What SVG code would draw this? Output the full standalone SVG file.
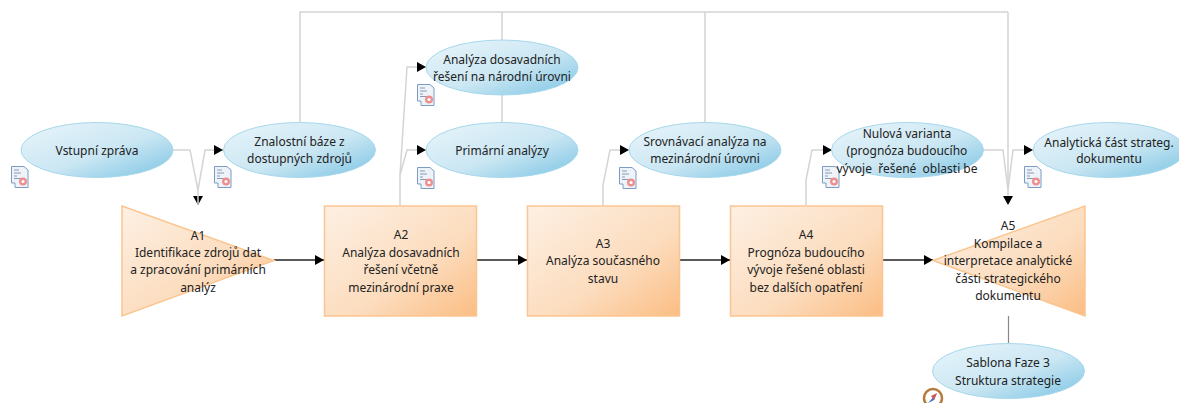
<svg xmlns="http://www.w3.org/2000/svg" xmlns:xlink="http://www.w3.org/1999/xlink" width="1179" height="403" viewBox="0 0 1179 403">
<style>
text{font-family:"Noto Sans","DejaVu Sans",sans-serif;font-size:12px;fill:#222;text-anchor:middle;dominant-baseline:central;white-space:pre}
.e{fill:url(#blue);stroke:#a6d8ec;stroke-width:1}
.o{fill:url(#orange);stroke:#fbc590;stroke-width:1.5}
.g{fill:none;stroke:#d4d4d4;stroke-width:1.5}
.k{fill:none;stroke:#222;stroke-width:1.5}
</style>
<defs>
<linearGradient id="blue" x1="0.1" y1="0.1" x2="0.9" y2="0.9"><stop offset="0" stop-color="#e3f2f9"/><stop offset="0.55" stop-color="#cbe7f3"/><stop offset="1" stop-color="#8ccbe7"/></linearGradient>
<linearGradient id="orange" x1="0" y1="0" x2="1" y2="1"><stop offset="0" stop-color="#fdf0e4"/><stop offset="0.6" stop-color="#fcdcbd"/><stop offset="1" stop-color="#fbbd83"/></linearGradient>
<marker id="arr" markerUnits="userSpaceOnUse" markerWidth="9" markerHeight="10" refX="9" refY="5" orient="auto"><path d="M0 0L9 5L0 10Z" fill="#000"/></marker>
<symbol id="doc" width="18" height="22" viewBox="0 0 18 22"><path d="M0.5 0.5H13L17 4V21.5H4V17H0.5Z" fill="#eef3fa" stroke="#7d9cc4"/><path d="M3 4H8M3 7H10M3 10H6M3 12.5H11" stroke="#8a9ab0" fill="none"/><circle cx="12" cy="15.5" r="4" fill="#ee8f8f"/><circle cx="12" cy="15.500" r="1.600" fill="#fff"/></symbol>
</defs>
<g id="connectors">
<path class="g" d="M300 122V12H1008M502 12V40M502 95V123M705 12V122M1008 12V196"/>
<path fill="#000" d="M1003 196H1013L1008 205Z"/>
<path fill="#000" d="M193 196H203L198 205Z"/>
<path class="g" d="M173 150H190L198 190V204"/>
<path class="g" d="M198 190L205 150H223" marker-end="url(#arr)"/>
<path class="g" d="M400 205V175L407 67H426" marker-end="url(#arr)"/>
<path class="g" d="M400 175L407 150H426" marker-end="url(#arr)"/>
<path class="g" d="M603 205V185L610 150H629" marker-end="url(#arr)"/>
<path class="g" d="M806 205V180L812 150H832" marker-end="url(#arr)"/>
<path class="g" d="M984 150H1003L1008 190"/>
<path class="g" d="M1008 190L1013 150H1033" marker-end="url(#arr)"/>
<path class="k" d="M274 260H324" marker-end="url(#arr)"/>
<path class="k" d="M477 260H527" marker-end="url(#arr)"/>
<path class="k" d="M680 260H730" marker-end="url(#arr)"/>
<path class="k" d="M882 260H933" marker-end="url(#arr)"/>
<path d="M1008.500 316V343" fill="none" stroke="#888" stroke-width="1.200"/>
</g>
<g id="n-vstupni"><ellipse class="e" cx="97" cy="150" rx="76" ry="27.500"/><use xlink:href="#doc" href="#doc" x="11" y="166"/><text x="97" y="150">Vstupní zpráva</text></g>
<g id="n-znalostni"><ellipse class="e" cx="299.500" cy="150" rx="76" ry="27.500"/><use xlink:href="#doc" href="#doc" x="214" y="166"/><text x="299.500" y="141">Znalostní báze z</text><text x="299.500" y="158">dostupných zdrojů</text></g>
<g id="n-dosavadni"><ellipse class="e" cx="502" cy="67.500" rx="76" ry="27.500"/><use xlink:href="#doc" href="#doc" x="417" y="84"/><text x="502" y="59">Analýza dosavadních</text><text x="502" y="76">řešení na národní úrovni</text></g>
<g id="n-primarni"><ellipse class="e" cx="502" cy="150" rx="76" ry="27.500"/><use xlink:href="#doc" href="#doc" x="417" y="167"/><text x="502" y="150">Primární analýzy</text></g>
<g id="n-srovnavaci"><ellipse class="e" cx="705" cy="150" rx="76" ry="27.500"/><use xlink:href="#doc" href="#doc" x="619" y="167"/><text x="705" y="141">Srovnávací analýza na</text><text x="705" y="158">mezinárodní úrovni</text></g>
<g id="n-nulova"><ellipse class="e" cx="907.500" cy="150" rx="76" ry="27.500"/><use xlink:href="#doc" href="#doc" x="822" y="166"/><text x="907" y="133">Nulová varianta</text><text x="907" y="150">(prognóza budoucího</text><text x="907" y="168">vývoje  řešené  oblasti be</text></g>
<g id="n-analyticka"><ellipse class="e" cx="1109" cy="150" rx="76" ry="27.500"/><use xlink:href="#doc" href="#doc" x="1024" y="166"/><text x="1109" y="142">Analytická část strateg.</text><text x="1109" y="158">dokumentu</text></g>
<g id="n-sablona"><ellipse class="e" cx="1008.500" cy="371" rx="76" ry="27.500"/>
<circle cx="933" cy="398" r="9" fill="#fff" stroke="#b57a3e" stroke-width="2.500"/><path d="M928 403L937 393L934 400Z" fill="#3a6fc0"/><path d="M937 393L931 396L934 400Z" fill="#d9534f"/>
<text x="1008" y="362">Sablona Faze 3</text><text x="1008" y="380">Struktura strategie</text></g>
<g id="a1"><path class="o" d="M122 206L274 260.500L122 316Z"/><text x="198" y="235">A1</text><text x="198" y="252">Identifikace zdrojů dat</text><text x="198" y="269">a zpracování primárních</text><text x="198" y="287">analýz</text></g>
<g id="a2"><rect class="o" x="324.500" y="206" width="152" height="110"/><text x="401" y="234">A2</text><text x="401" y="252">Analýza dosavadních</text><text x="401" y="269">řešení včetně</text><text x="401" y="287">mezinárodní praxe</text></g>
<g id="a3"><rect class="o" x="527.500" y="206" width="152" height="110"/><text x="603" y="243">A3</text><text x="603" y="260">Analýza současného</text><text x="603" y="278">stavu</text></g>
<g id="a4"><rect class="o" x="730.500" y="206" width="152" height="110"/><text x="806" y="234">A4</text><text x="806" y="252">Prognóza budoucího</text><text x="806" y="269">vývoje řešené oblasti</text><text x="806" y="287">bez dalších opatření</text></g>
<g id="a5"><path class="o" d="M933 260.500L1085 206V316Z"/><text x="1008" y="225">A5</text><text x="1008" y="243">Kompilace a</text><text x="1008" y="260">interpretace analytické</text><text x="1008" y="278">části strategického</text><text x="1008" y="295">dokumentu</text></g>
</svg>
